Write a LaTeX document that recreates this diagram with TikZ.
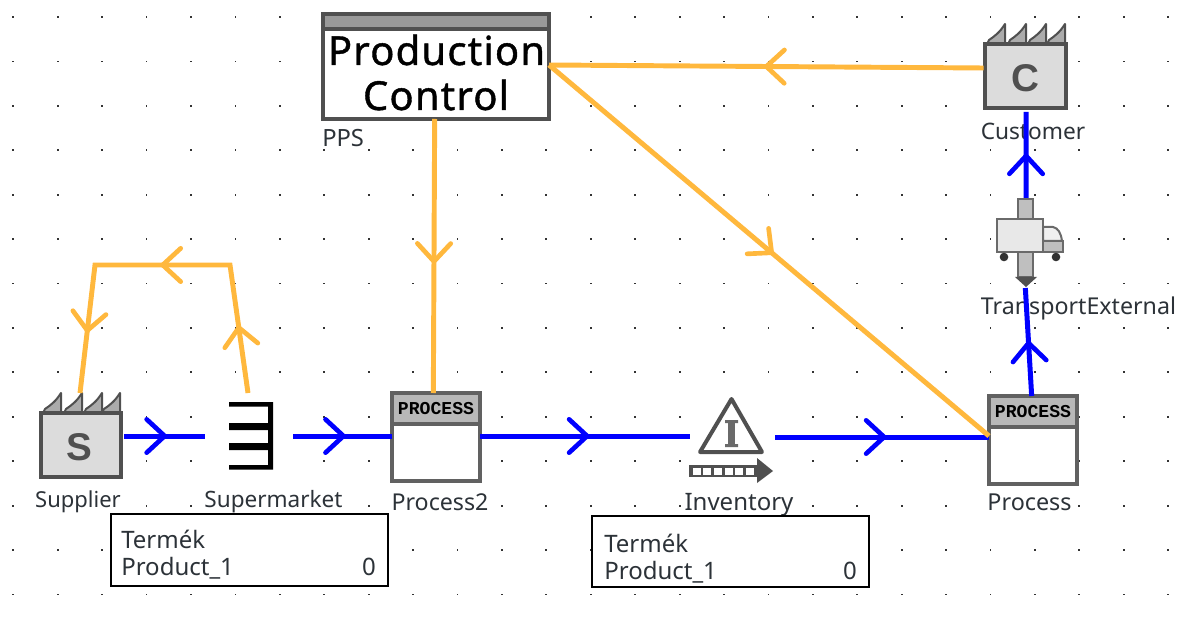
\documentclass[tikz,border=0pt]{standalone}
\usepackage{fontspec}
\setmainfont{Noto Sans}
\newfontfamily\procfont{Liberation Mono}
\newfontfamily\letterfont{Liberation Sans}
\usetikzlibrary{decorations.markings}
\definecolor{flowblue}{HTML}{0000FF}
\definecolor{floworange}{HTML}{FFB83D}
\definecolor{edgegray}{HTML}{505050}
\definecolor{boxgray}{HTML}{DCDCDC}
\definecolor{toothgray}{HTML}{ABABAB}
\definecolor{headgray}{HTML}{B8B8B8}
\definecolor{labelgray}{HTML}{2C3238}
\newcommand{\barbtip}[1]{\draw[color=#1,line width=3.5pt,line cap=round,line join=round] (-13.5pt,12.5pt)--(0pt,0pt)--(-13.5pt,-12.5pt);}
\tikzset{
  pxbox/.style 2 args={inner sep=0pt,outer sep=0pt,minimum width=#1*0.75pt,minimum height=#2*0.75pt},
  bluetip/.style={postaction={decorate,decoration={markings,mark=at position #1 with {\barbtip{flowblue}}}}},
  orangetip/.style={postaction={decorate,decoration={markings,mark=at position #1 with {\barbtip{floworange}}}}},
  blueflow/.style={draw=flowblue,line width=3.75pt},
  orangeflow/.style={draw=floworange,line width=3.7pt,line join=miter},
  lbl/.style={font=\fontsize{#1}{18}\selectfont,text=labelgray,inner sep=0pt,fill=white},
  stock/.style={draw=black,line width=0.9pt,fill=white},
  stocktext/.style={font=\fontsize{18}{18}\selectfont,text=labelgray,inner sep=0pt,anchor=base west},
  letter/.style={font=\letterfont\bfseries\fontsize{29}{30}\selectfont,text=edgegray,inner sep=0pt},
  proctext/.style={font=\procfont\bfseries\fontsize{13.6}{14}\selectfont,text=black,inner sep=0pt},
  bigtext/.style={font=\addfontfeatures{LetterSpace=3,FakeBold=1}\fontsize{30}{30}\selectfont,text=black,inner sep=0pt},
  truckline/.style={draw=edgegray!85,line width=1.5pt},
}
\newcommand{\tooth}[1]{\filldraw[fill=toothgray,draw=edgegray,line width=1.5pt,line join=round] (#1,0) -- (#1+2,-4) .. controls (#1+8,-8) and (#1+13,-12) .. (#1+18,-20) -- (#1+18,0) -- cycle;}
\newcommand{\factory}[5]{% name, left, top, width, height
  \begin{scope}[shift={(#2,#3)}]
    \tooth{2}\tooth{23}\tooth{43}\tooth{#4-19}
    \node[pxbox={#4}{#5},fill=boxgray,draw=edgegray,line width=3pt,anchor=north west] (#1) at (0,0) {};
  \end{scope}}
\newcommand{\processbox}[3]{% name, left, top
  \begin{scope}[shift={(#2,#3)}]
    \node[pxbox={88}{88},fill=white,draw=edgegray!90,line width=3pt,anchor=north west] (#1) at (0,0) {};
    \filldraw[fill=headgray,draw=edgegray!90,line width=3pt] (0,0) rectangle (88,31);
    \node[proctext] (#1head) at (44,15.5) {PROCESS};
  \end{scope}}
\begin{document}
\begin{tikzpicture}[x=0.75pt,y=-0.75pt]
\useasboundingbox (0,0) rectangle (1180,630);
\fill[white] (0,0) rectangle (1180,630);
% grid
\foreach \i in {0,...,26}{\foreach \j in {0,...,13}{
  \fill[black!80] ({13.3+44.42*\i-0.9},{17+44.42*\j-0.9}) rectangle ++(1.8,1.8);
}}
% labels
\node[lbl=16.5] (supplierlabel) at (78,502) {Supplier};
\node[lbl=16.9] (supermarketlabel) at (273.5,502) {Supermarket};
\node[lbl=17.4] (process2label) at (440,502) {Process2};
\node[lbl=18] (inventorylabel) at (739,505) {Inventory};
\node[lbl=17.5] (processlabel) at (1029.5,502) {Process};
\node[lbl=17] (customerlabel) at (1033,131) {Customer};
\node[lbl=17.4] (transportlabel) at (1078.5,308) {TransportExternal};
\node[lbl=17.8,anchor=west] (ppslabel) at (322,138) {PPS};
% stock boxes
\node[stock,pxbox={277}{72},anchor=north west] (stockone) at (111,514) {};
\node[stocktext] (stockonea) at (121,548) {Termék};
\node[stocktext] (stockoneb) at (121,575) {Product\_1};
\node[stocktext,anchor=base] (stockonec) at (369,575) {0};
\node[stock,pxbox={277}{71},anchor=north west] (stocktwo) at (592,516) {};
\node[stocktext] (stocktwoa) at (604,552) {Termék};
\node[stocktext] (stocktwob) at (604,579) {Product\_1};
\node[stocktext,anchor=base] (stocktwoc) at (850,579) {0};
% factories
\factory{supplier}{41}{413}{80}{64}
\node[letter] (supplierletter) at (79,447) {S};
\factory{customer}{985}{44}{81}{64}
\node[letter] (customerletter) at (1025,78) {C};
% supermarket
\node[pxbox={88}{82},fill=white] (supermarket) at (249,436) {};
\fill[black] (229,402) rectangle (273,406.5) (229,423) rectangle (273,430) (229,443) rectangle (273,450) (229,465) rectangle (273,469.5) (268,402) rectangle (273,469.5);
% processes
\processbox{processtwo}{392}{393}
\processbox{process}{989}{396}
% inventory
\node[pxbox={85}{90},fill=white] (inventory) at (732.5,440) {};
\draw[edgegray,line width=3pt,line join=round] (731.5,399) -- (762,452) -- (700,452) -- cycle;
\fill[edgegray!85] (728,423) rectangle (735,444);
\fill[edgegray!85] (725,420) rectangle (738,423) (725,444) rectangle (738,447);
\fill[edgegray] (689,465) rectangle (757,477);
\foreach \k in {0,1,2,3,4,5}{\fill[white] ({692.5+10.7*\k},467.5) rectangle ++(8,7.5);}
\fill[edgegray] (757,458) -- (773,471) -- (757,483) -- cycle;
% truck
\node[pxbox={66}{90},fill=none] (truck) at (1030,243) {};
\filldraw[fill=black!25,truckline] (1018,199) rectangle (1033,219);
\filldraw[fill=black!25,truckline] (1018,252) rectangle (1033,277);
\fill[edgegray] (1015,277) -- (1037,277) -- (1026,287) -- cycle;
\filldraw[fill=black!25,truckline] (1043,241) rectangle (1063,252);
\filldraw[fill=black!6,truckline] (1043,241) -- (1043,227) -- (1053,227) .. controls (1058,228) and (1061,233) .. (1062,241) -- cycle;
\filldraw[fill=black!9,truckline] (997,219) rectangle (1043,252);
\fill[black!80] (1004,257) circle[radius=4.3] (1056,257) circle[radius=4.3];
% production control
\node[pxbox={226}{105},fill=white,draw=edgegray,line width=3pt,anchor=north west] (pps) at (323,14) {};
\filldraw[fill=black!40,draw=edgegray,line width=3pt] (323,14) rectangle (549,29);
\node[bigtext] (ppsa) at (436.5,50) {Production};
\node[bigtext] (ppsb) at (436,95) {Control};
% blue connectors
\draw[blueflow,bluetip=0.5] ([xshift=2.5pt]supplier.east |- supermarket.west) -- (supermarket.west);
\draw[blueflow,bluetip=0.51] (supermarket.east) -- (processtwo.west |- supermarket.east);
\draw[blueflow,bluetip=0.51] (processtwo.east |- supermarket.east) -- (inventory.west |- supermarket.east);
\draw[blueflow,bluetip=0.51] (inventory.east |- 0,437) -- (process.west |- 0,437);
\draw[blueflow,bluetip=0.49] ([xshift=-1pt]process.north) -- ([xshift=-3.5pt]truck.south);
\draw[blueflow,bluetip=0.49] ([xshift=-3pt]truck.north) -- ([yshift=-3pt,xshift=0.5pt]customer.south);
% orange connectors
\coordinate (bendright) at (230,265);
\coordinate (bendleft) at (95,265);
\coordinate (supermarkettop) at (248,393);
\coordinate (suppliertop) at (80,393);
\coordinate (ppsright) at (549,65);
\draw[orangeflow,orangetip=0.5] ([xshift=-1pt]customer.west |- 0,68) -- (ppsright);
\draw[orangeflow,orangetip=0.506] (ppsright) -- (process.west |- 0,436);
\draw[orangeflow,orangetip=0.52] ([xshift=-1pt]pps.south) -- ([xshift=-2pt]processtwo.north |- 0,393);
\draw[orangeflow,orangetip=0.168,orangetip=0.5,orangetip=0.84] (supermarkettop) -- (bendright) -- (bendleft) -- (suppliertop);
\end{tikzpicture}
\end{document}
